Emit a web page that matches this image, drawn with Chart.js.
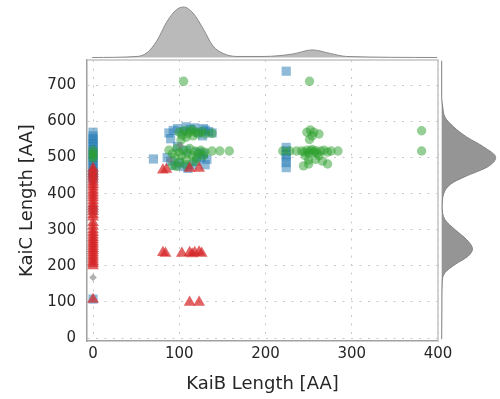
<!DOCTYPE html>
<html>
<head>
<meta charset="utf-8">
<script src="https://cdn.jsdelivr.net/npm/chart.js@4"></script>
<style>
  body { margin: 0; background: #fff; }
  .box { position: absolute; }
</style>
</head>
<body>
<div class="box" style="left:0;top:0;width:500px;height:399px"><canvas id="main"></canvas></div>
<div class="box" style="left:87px;top:0;width:351px;height:59px"><canvas id="topKde"></canvas></div>
<div class="box" style="left:440px;top:60px;width:60px;height:281px"><canvas id="rightKde"></canvas></div>
<script>
// scatter points: KaiB length (x) and KaiC length (y)
const blueX = [0,0,0,0,0,0,0,0,0,0,0,0,0,0,0,0,0,0,0,0,
  88,90,93,98,104,108,113,118,122,127,130,134,138,128,
  70,86,90,95,100,105,110,115,120,125,128,132,130,122,108,98,
  224,224,224,224,224,224,224];
const blueY = [570,560,552,545,538,530,522,515,508,500,492,485,478,470,462,455,447,440,356,108,
  568,552,575,580,572,585,578,582,570,560,576,572,568,580,
  496,500,490,478,485,475,470,480,490,500,510,495,480,515,520,530,
  739,528,518,508,498,486,472];

const greenX = [0,0,0,0,
  100,103,106,110,113,116,119,122,126,130,108,138,102,115,
  88,92,95,97,100,103,105,108,110,112,115,118,120,122,125,128,130,100,92,97,107,117,138,147,158,105,
  251,248,252,256,254,262,251,220,228,236,242,245,248,250,252,254,256,258,260,264,268,272,276,284,
  250,244,250,258,266,272,262,246,381,381];
const greenY = [512,505,520,498,
  570,562,575,566,572,560,570,565,572,566,556,567,548,578,
  520,510,500,525,515,505,520,495,512,525,505,518,498,512,520,505,515,488,478,475,480,488,518,518,518,711,
  711,570,576,570,560,565,550,518,518,518,518,515,520,512,518,522,515,519,512,518,520,515,518,518,
  493,477,482,495,490,482,505,505,574,518];

const redX = [0,0,0,0,0,0,0,0,0,0,0,0,0,0,0,0,0,0,0,0,0,0,0,0,0,0,0,0,0,0,0,0,0,0,0,0,0,0,0,
  81,85,112,123,
  81,84,103,112,115,118,123,126,
  112,123];
const redY = [470,462,455,448,440,432,425,418,410,402,395,388,380,372,365,358,350,342,335,320,310,300,292,285,278,272,266,260,254,248,242,236,230,224,218,212,206,200,107,
  465,467,470,470,
  237,235,235,237,233,237,238,235,
  99,99];

const grayX = [0, 101, 89];
const grayY = [168, 534, 493];

// marginal density curves (relative height)
const topKdeX = [-1, 51, 63, 74, 86, 97, 105, 116, 128, 139, 151, 167, 197, 232, 254, 275, 294, 399];
const topKdeH = [0, 0.02, 0.10, 0.33, 0.72, 0.95, 1.0, 0.88, 0.56, 0.23, 0.08, 0.02, 0.02, 0.07, 0.15, 0.08, 0.02, 0];

const rightKdeY = [-3, 107, 153, 181, 204, 227, 247, 273, 300, 328, 364, 401, 429, 447, 475, 500, 530, 557, 585, 612, 640, 667, 768];
const rightKdeH = [0, 0.005, 0.01, 0.06, 0.25, 0.49, 0.57, 0.46, 0.25, 0.06, 0.01, 0.04, 0.19, 0.43, 0.86, 1.0, 0.77, 0.46, 0.22, 0.06, 0.02, 0, 0];

const xTicks = [0, 100, 200, 300, 400];
const yTicks = [0, 100, 200, 300, 400, 500, 600, 700];

const pts = (xs, ys) => xs.map((x, i) => ({x: x, y: ys[i]}));

const framePlugin = {
  id: 'frame',
  beforeDatasetsDraw(chart) {
    const {ctx, chartArea: a} = chart;
    ctx.save();
    ctx.strokeStyle = '#c4c4c4';
    ctx.lineWidth = 1.5;
    ctx.beginPath();
    ctx.moveTo(a.left, a.top);
    ctx.lineTo(a.right, a.top);
    ctx.lineTo(a.right, a.bottom);
    ctx.stroke();
    ctx.restore();
  }
};

const gridOpts = {
  color: '#c8c8c8',
  lineWidth: 1,
  drawTicks: false
};

new Chart(document.getElementById('main'), {
  type: 'scatter',
  data: {
    datasets: [
      {data: pts(grayX, grayY), pointStyle: 'rectRot', pointRadius: 3.8, backgroundColor: 'rgba(127,127,127,0.6)', borderWidth: 0},
      {data: pts(redX, redY), pointStyle: 'triangle', pointRadius: 6.8, backgroundColor: 'rgba(214,39,40,0.72)', borderWidth: 0},
      {data: pts(greenX, greenY), pointStyle: 'circle', pointRadius: 4.7, backgroundColor: 'rgba(44,160,44,0.5)', borderWidth: 0},
      {data: pts(blueX, blueY), pointStyle: 'rect', pointRadius: 6.5, backgroundColor: 'rgba(31,119,180,0.5)', borderWidth: 0}
    ]
  },
  options: {
    responsive: true,
    maintainAspectRatio: false,
    animation: false,
    layout: {padding: {top: 60, right: 62, left: 0, bottom: 0}},
    plugins: {legend: {display: false}, tooltip: {enabled: false}},
    scales: {
      x: {
        type: 'linear',
        min: -7,
        max: 400,
        afterFit: s => { s.height = 58; },
        afterBuildTicks: s => { s.ticks = xTicks.map(v => ({value: v})); },
        ticks: {padding: 4, color: '#262626', font: {family: 'DejaVu Sans', size: 15}},
        grid: Object.assign({}, gridOpts),
        border: {color: '#a0a0a0', width: 1.5, dash: [2, 6.5]},
        title: {display: true, text: 'KaiB Length [AA]', color: '#262626', font: {family: 'DejaVu Sans', size: 18}, padding: {top: 0, bottom: 4}}
      },
      y: {
        type: 'linear',
        min: -8,
        max: 770,
        afterFit: s => { s.width = 87; },
        afterBuildTicks: s => { s.ticks = yTicks.map(v => ({value: v})); },
        ticks: {padding: 11, color: '#262626', font: {family: 'DejaVu Sans', size: 15}},
        grid: Object.assign({}, gridOpts),
        border: {color: '#a0a0a0', width: 1.5, dash: [2, 6.5]},
        title: {display: true, text: 'KaiC Length [AA]', color: '#262626', font: {family: 'DejaVu Sans', size: 18}, padding: {top: 17, bottom: 0}}
      }
    }
  },
  plugins: [framePlugin]
});

new Chart(document.getElementById('topKde'), {
  type: 'line',
  data: {
    datasets: [{
      data: pts(topKdeX, topKdeH),
      borderColor: '#8a8a8a',
      borderWidth: 1,
      backgroundColor: '#bababa',
      fill: 'origin',
      pointRadius: 0,
      cubicInterpolationMode: 'monotone'
    }]
  },
  options: {
    responsive: true,
    maintainAspectRatio: false,
    animation: false,
    layout: {padding: 0},
    plugins: {legend: {display: false}, tooltip: {enabled: false}},
    scales: {
      x: {type: 'linear', min: -7, max: 400, display: false},
      y: {type: 'linear', min: -0.03, max: 1.14, display: false}
    }
  }
});

new Chart(document.getElementById('rightKde'), {
  type: 'line',
  data: {
    datasets: [{
      data: pts(rightKdeH, rightKdeY),
      borderColor: '#808080',
      borderWidth: 1,
      backgroundColor: '#959595',
      fill: 'origin',
      pointRadius: 0,
      cubicInterpolationMode: 'monotone'
    }]
  },
  options: {
    indexAxis: 'y',
    responsive: true,
    maintainAspectRatio: false,
    animation: false,
    layout: {padding: 0},
    plugins: {legend: {display: false}, tooltip: {enabled: false}},
    scales: {
      x: {type: 'linear', min: -0.031, max: 1.08, display: false},
      y: {type: 'linear', min: -8, max: 770, display: false}
    }
  }
});
</script>
</body>
</html>
